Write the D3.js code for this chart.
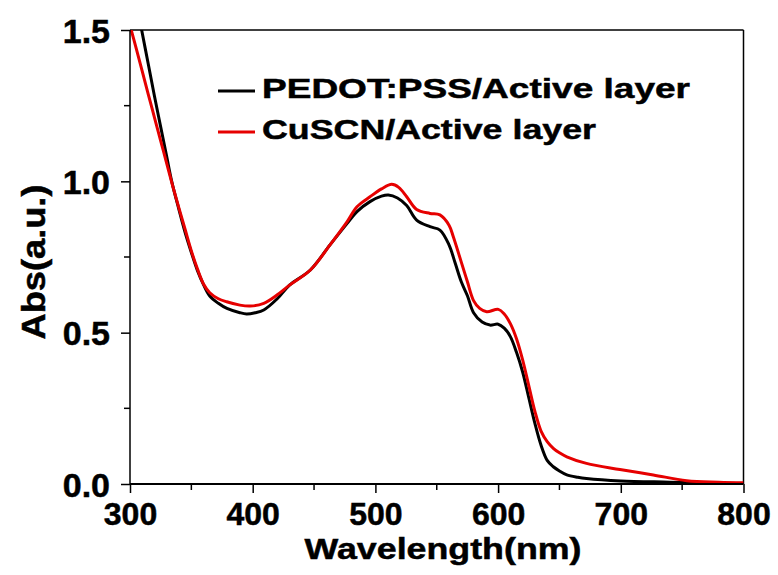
<!DOCTYPE html>
<html>
<head>
<meta charset="utf-8">
<script src="https://cdn.jsdelivr.net/npm/d3@7"></script>
<style>
  html, body { margin: 0; padding: 0; background: #fff; }
  svg { display: block; }
  text { font-family: "Liberation Sans", Arial, sans-serif; font-weight: bold; fill: #000; stroke: #000; stroke-width: 0.5px; }
</style>
</head>
<body>
<svg id="chart" width="778" height="575"></svg>
<script>
// ---- data ----
const seriesNames = ["PEDOT:PSS/Active layer", "CuSCN/Active layer"];
const seriesColors = ["#000000", "#e60000"];

const pedotWavelength = [300, 305, 309.5, 315, 320, 325, 330, 334, 340, 345, 350, 355, 360, 365, 372, 379, 389.6, 395, 402, 409, 420, 430, 447, 463, 477, 485, 495.6, 505, 510.5, 518, 525.5, 533.6, 544.5, 552.6, 560, 565, 570, 575, 580, 587, 593.4, 600, 605, 610, 615, 620, 625, 630, 635, 640, 645, 650, 656, 665, 672, 700, 740, 770, 800];
const pedotAbs = [1.70, 1.595, 1.50, 1.385, 1.28, 1.18, 1.08, 1.0, 0.905, 0.83, 0.765, 0.705, 0.658, 0.621, 0.597, 0.58, 0.566, 0.562, 0.566, 0.575, 0.612, 0.657, 0.707, 0.79, 0.861, 0.90, 0.933, 0.951, 0.955, 0.945, 0.92, 0.872, 0.85, 0.839, 0.79, 0.73, 0.668, 0.622, 0.566, 0.535, 0.525, 0.528, 0.515, 0.487, 0.435, 0.37, 0.285, 0.20, 0.128, 0.078, 0.057, 0.043, 0.03, 0.022, 0.018, 0.01, 0.006, 0.003, 0.002];

const cuscnWavelength = [300, 305, 310, 315, 320, 325, 330, 335, 340, 345, 350, 355, 360, 365, 372, 378.8, 389.6, 398, 409, 420, 430, 447, 463, 477, 485, 495.6, 505, 513.3, 519, 525.5, 533.6, 544.5, 552.6, 560, 563.5, 570, 575, 580, 585, 590.7, 600.2, 605, 610, 615, 620, 625, 630, 635, 640, 645, 650, 656, 672, 699.3, 726.5, 753.7, 780, 800];
const cuscnAbs = [1.515, 1.44, 1.363, 1.286, 1.21, 1.134, 1.058, 0.982, 0.91, 0.84, 0.77, 0.71, 0.66, 0.632, 0.612, 0.602, 0.591, 0.588, 0.597, 0.625, 0.657, 0.707, 0.79, 0.867, 0.916, 0.949, 0.975, 0.99, 0.98, 0.949, 0.907, 0.894, 0.889, 0.855, 0.817, 0.733, 0.668, 0.606, 0.58, 0.569, 0.577, 0.562, 0.53, 0.48, 0.41, 0.325, 0.24, 0.175, 0.14, 0.118, 0.103, 0.09, 0.068, 0.048, 0.03, 0.011, 0.006, 0.004];

const xTickValues = [300, 400, 500, 600, 700, 800];
const xMinorTickValues = [350, 450, 550, 650, 750];
const yTickValues = [0.0, 0.5, 1.0, 1.5];
const yMinorTickValues = [0.25, 0.75, 1.25];
const xTitle = "Wavelength(nm)";
const yTitle = "Abs(a.u.)";

// ---- layout ----
const svg = d3.select("#chart");
const mLeft = 130, mRight = 743.5, mTop = 30, mBottom = 484;

const x = d3.scaleLinear().domain([300, 800]).range([mLeft, mRight]);
const y = d3.scaleLinear().domain([0, 1.5]).range([mBottom, mTop]);

svg.append("defs").append("clipPath").attr("id", "plotclip")
  .append("rect").attr("x", mLeft).attr("y", mTop).attr("width", mRight - mLeft).attr("height", mBottom - mTop);

// frame (top and right)
svg.append("line").attr("x1", mLeft).attr("x2", mRight).attr("y1", mTop).attr("y2", mTop)
  .attr("stroke", "#000").attr("stroke-width", 1.5);
svg.append("line").attr("x1", mRight).attr("x2", mRight).attr("y1", mTop).attr("y2", mBottom)
  .attr("stroke", "#000").attr("stroke-width", 1.5);

// curves
const series = [
  pedotWavelength.map((w, i) => [w, pedotAbs[i]]),
  cuscnWavelength.map((w, i) => [w, cuscnAbs[i]])
];
const line = d3.line().x(d => x(d[0])).y(d => y(d[1])).curve(d3.curveCatmullRom.alpha(0.5));
const g = svg.append("g").attr("clip-path", "url(#plotclip)");
series.forEach((s, i) => {
  g.append("path").attr("d", line(s)).attr("fill", "none")
    .attr("stroke", seriesColors[i]).attr("stroke-width", 3).attr("stroke-linejoin", "round");
});

// x axis
const xAxis = svg.append("g").attr("transform", `translate(0,${mBottom})`)
  .call(d3.axisBottom(x).tickValues(xTickValues).tickSize(9).tickPadding(4).tickFormat(d3.format("d")));
xAxis.append("g").selectAll("line").data(xMinorTickValues).join("line")
  .attr("x1", d => x(d)).attr("x2", d => x(d)).attr("y1", 0).attr("y2", 6)
  .attr("stroke", "#000").attr("stroke-width", 1.5);
xAxis.select(".domain").attr("stroke-width", 2).attr("d", `M${mLeft},0H${mRight}`);
xAxis.selectAll(".tick line").attr("stroke-width", 1.5);
xAxis.selectAll(".tick text").attr("font-size", 32).attr("font-family", null).attr("fill", "#000")
  .attr("dy", null).attr("y", 41);

// y axis
const yAxis = svg.append("g").attr("transform", `translate(${mLeft},0)`)
  .call(d3.axisLeft(y).tickValues(yTickValues).tickSize(9).tickPadding(4).tickFormat(d3.format(".1f")));
yAxis.append("g").selectAll("line").data(yMinorTickValues).join("line")
  .attr("x1", 0).attr("x2", -6).attr("y1", d => y(d)).attr("y2", d => y(d))
  .attr("stroke", "#000").attr("stroke-width", 1.5);
yAxis.select(".domain").attr("stroke-width", 1.5).attr("d", `M0,${mTop}V${mBottom}`);
yAxis.selectAll(".tick line").attr("stroke-width", 1.5);
yAxis.selectAll(".tick text").attr("font-size", 34).attr("font-family", null).attr("fill", "#000")
  .attr("x", -20).attr("dy", null).attr("y", 12);

// titles
svg.append("text").attr("x", 443).attr("y", 559).attr("text-anchor", "middle")
  .attr("font-size", 30).attr("textLength", 277).attr("lengthAdjust", "spacingAndGlyphs").text(xTitle);
svg.append("text").attr("transform", "translate(45,262) rotate(-90)").attr("text-anchor", "middle")
  .attr("font-size", 33).attr("textLength", 155).attr("lengthAdjust", "spacingAndGlyphs").text(yTitle);

// legend
const legendY = [91, 132];
const legendTextLen = [428, 334];
seriesNames.forEach((name, i) => {
  svg.append("line").attr("x1", 218).attr("x2", 255).attr("y1", legendY[i]).attr("y2", legendY[i])
    .attr("stroke", seriesColors[i]).attr("stroke-width", 3);
  svg.append("text").attr("x", 262).attr("y", legendY[i] + 7).attr("font-size", 28)
    .attr("textLength", legendTextLen[i]).attr("lengthAdjust", "spacingAndGlyphs").text(name);
});
</script>
</body>
</html>
